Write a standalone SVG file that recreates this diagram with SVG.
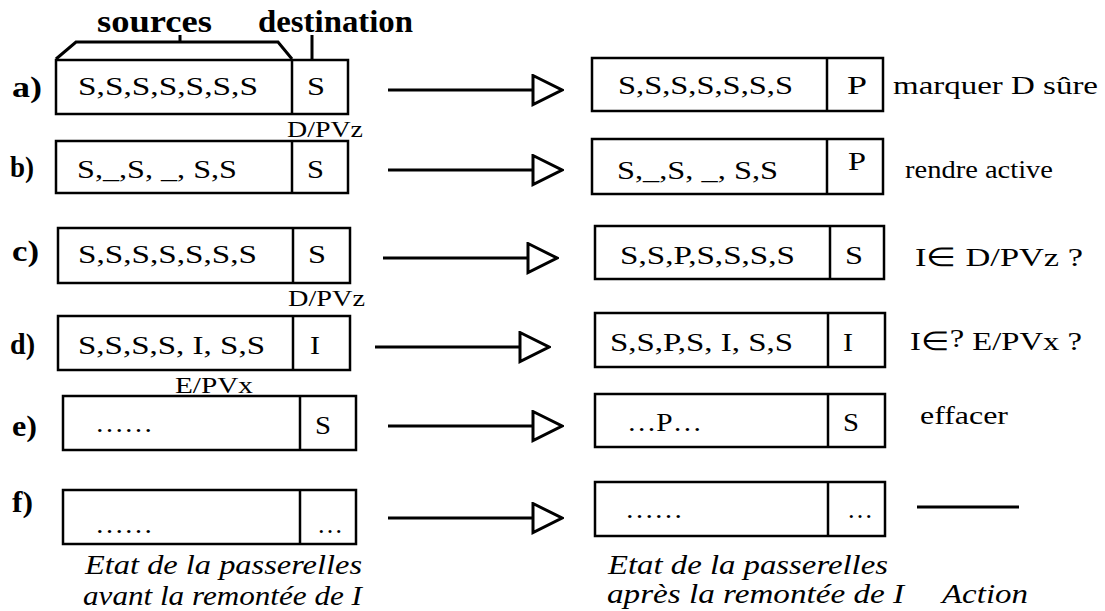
<svg xmlns="http://www.w3.org/2000/svg" width="1105" height="611" viewBox="0 0 1105 611">
<style>
text{font-family:"Liberation Serif","Times New Roman",serif;fill:#000}
.t{font-size:26px}
.s{font-size:23px}
.b{font-size:29px;font-weight:bold}
.h{font-size:32px;font-weight:bold}
.i{font-size:28px;font-style:italic}
.box{fill:#fff;stroke:#000;stroke-width:2.5}
.div{stroke:#000;stroke-width:2.5}
.ln{stroke:#000;stroke-width:3;fill:none}
</style>
<defs>
<marker id="tri" viewBox="-2 -2 33 33" markerWidth="33" markerHeight="33" markerUnits="userSpaceOnUse" refX="0" refY="14.5" orient="auto">
<path d="M0,0 L29,14.5 L0,29 Z" fill="#fff" stroke="#000" stroke-width="3"/>
</marker>
</defs>
<rect width="1105" height="611" fill="#fff"/>

<g id="header">
<text class="h" x="97" y="32" textLength="115" lengthAdjust="spacingAndGlyphs">sources</text>
<text class="h" x="258" y="32" textLength="155" lengthAdjust="spacingAndGlyphs">destination</text>
<path class="ln" d="M56,59 L76,42 L278,42 L292,59 M180,42 V35 M312,35 V64"/>
</g>

<g id="labels">
<text class="b" x="12" y="97" textLength="30" lengthAdjust="spacingAndGlyphs">a)</text>
<text class="b" x="10" y="177" textLength="24" lengthAdjust="spacingAndGlyphs">b)</text>
<text class="b" x="12" y="261" textLength="27" lengthAdjust="spacingAndGlyphs">c)</text>
<text class="b" x="10" y="354" textLength="25" lengthAdjust="spacingAndGlyphs">d)</text>
<text class="b" x="12" y="436" textLength="25" lengthAdjust="spacingAndGlyphs">e)</text>
<text class="b" x="12" y="512" textLength="21" lengthAdjust="spacingAndGlyphs">f)</text>
</g>

<g id="before-a">
<rect class="box" x="56" y="60" width="292" height="54"/><line class="div" x1="292" y1="60" x2="292" y2="114"/>
<text class="t" x="78" y="95" textLength="180" lengthAdjust="spacingAndGlyphs">S,S,S,S,S,S,S</text>
<text class="t" x="307" y="95" textLength="18" lengthAdjust="spacingAndGlyphs">S</text>
<text class="s" x="287" y="137" textLength="76" lengthAdjust="spacingAndGlyphs">D/PVz</text>
</g>
<g id="before-b">
<rect class="box" x="56" y="141" width="292" height="52"/><line class="div" x1="292" y1="141" x2="292" y2="193"/>
<text class="t" x="77" y="178" textLength="160" lengthAdjust="spacingAndGlyphs">S,_,S, _, S,S</text>
<text class="t" x="307" y="178" textLength="17" lengthAdjust="spacingAndGlyphs">S</text>
</g>
<g id="before-c">
<rect class="box" x="58" y="228" width="292" height="55"/><line class="div" x1="293" y1="228" x2="293" y2="283"/>
<text class="t" x="78" y="263" textLength="179" lengthAdjust="spacingAndGlyphs">S,S,S,S,S,S,S</text>
<text class="t" x="308" y="263" textLength="18" lengthAdjust="spacingAndGlyphs">S</text>
<text class="s" x="288" y="306" textLength="77" lengthAdjust="spacingAndGlyphs">D/PVz</text>
</g>
<g id="before-d">
<rect class="box" x="58" y="316" width="292" height="54"/><line class="div" x1="293" y1="316" x2="293" y2="370"/>
<text class="t" x="78" y="354" textLength="187" lengthAdjust="spacingAndGlyphs">S,S,S,S, I, S,S</text>
<text class="t" x="310" y="354" textLength="10" lengthAdjust="spacingAndGlyphs">I</text>
<text class="s" x="175" y="393" textLength="78" lengthAdjust="spacingAndGlyphs">E/PVx</text>
</g>
<g id="before-e">
<rect class="box" x="63" y="396" width="293" height="54"/><line class="div" x1="300" y1="396" x2="300" y2="450"/>
<text class="t" x="95" y="432" textLength="58" lengthAdjust="spacingAndGlyphs">……</text>
<text class="t" x="315" y="434" textLength="16" lengthAdjust="spacingAndGlyphs">S</text>
</g>
<g id="before-f">
<rect class="box" x="63" y="490" width="293" height="54"/><line class="div" x1="300" y1="490" x2="300" y2="544"/>
<text class="t" x="95" y="533" textLength="58" lengthAdjust="spacingAndGlyphs">……</text>
<text class="t" x="317" y="533" textLength="26" lengthAdjust="spacingAndGlyphs">…</text>
</g>

<g id="connectors">
<line class="ln" x1="388" y1="90" x2="533" y2="90" marker-end="url(#tri)"/>
<line class="ln" x1="388" y1="170" x2="533" y2="170" marker-end="url(#tri)"/>
<line class="ln" x1="383" y1="258" x2="528" y2="258" marker-end="url(#tri)"/>
<line class="ln" x1="375" y1="347" x2="520" y2="347" marker-end="url(#tri)"/>
<line class="ln" x1="388" y1="426" x2="533" y2="426" marker-end="url(#tri)"/>
<line class="ln" x1="388" y1="518" x2="533" y2="518" marker-end="url(#tri)"/>
</g>

<g id="after-a">
<rect class="box" x="592" y="58" width="291" height="53"/><line class="div" x1="827" y1="58" x2="827" y2="111"/>
<text class="t" x="618" y="94" textLength="175" lengthAdjust="spacingAndGlyphs">S,S,S,S,S,S,S</text>
<text class="t" x="847" y="94" textLength="20" lengthAdjust="spacingAndGlyphs">P</text>
</g>
<g id="after-b">
<rect class="box" x="592" y="139" width="291" height="55"/><line class="div" x1="827" y1="139" x2="827" y2="194"/>
<text class="t" x="617" y="179" textLength="161" lengthAdjust="spacingAndGlyphs">S,_,S, _, S,S</text>
<text class="t" x="848" y="170" textLength="18" lengthAdjust="spacingAndGlyphs">P</text>
</g>
<g id="after-c">
<rect class="box" x="595" y="226" width="289" height="53"/><line class="div" x1="830" y1="226" x2="830" y2="279"/>
<text class="t" x="620" y="264" textLength="175" lengthAdjust="spacingAndGlyphs">S,S,P,S,S,S,S</text>
<text class="t" x="845" y="264" textLength="18" lengthAdjust="spacingAndGlyphs">S</text>
</g>
<g id="after-d">
<rect class="box" x="595" y="313" width="290" height="54"/><line class="div" x1="828" y1="313" x2="828" y2="367"/>
<text class="t" x="610" y="351" textLength="183" lengthAdjust="spacingAndGlyphs">S,S,P,S, I, S,S</text>
<text class="t" x="843" y="351" textLength="10" lengthAdjust="spacingAndGlyphs">I</text>
</g>
<g id="after-e">
<rect class="box" x="595" y="394" width="290" height="53"/><line class="div" x1="828" y1="394" x2="828" y2="447"/>
<text class="t" x="627" y="431" textLength="75" lengthAdjust="spacingAndGlyphs">…P…</text>
<text class="t" x="843" y="431" textLength="16" lengthAdjust="spacingAndGlyphs">S</text>
</g>
<g id="after-f">
<rect class="box" x="595" y="482" width="290" height="54"/><line class="div" x1="828" y1="482" x2="828" y2="536"/>
<text class="t" x="625" y="518" textLength="58" lengthAdjust="spacingAndGlyphs">……</text>
<text class="t" x="847" y="518" textLength="26" lengthAdjust="spacingAndGlyphs">…</text>
</g>

<g id="actions">
<text class="t" x="893" y="94" textLength="205" lengthAdjust="spacingAndGlyphs">marquer D sûre</text>
<text class="t" x="905" y="178" textLength="148" lengthAdjust="spacingAndGlyphs">rendre active</text>
<text class="t" x="915" y="266" textLength="168" lengthAdjust="spacingAndGlyphs">I∈ D/PVz ?</text>
<text class="t" x="910" y="350" textLength="172" lengthAdjust="spacingAndGlyphs">I∈<tspan dy="-3">?</tspan><tspan dy="3"> E/PVx ?</tspan></text>
<text class="t" x="920" y="424" textLength="88" lengthAdjust="spacingAndGlyphs">effacer</text>
<line class="ln" x1="917" y1="507" x2="1019" y2="507"/>
</g>

<g id="captions">
<text class="i" x="85" y="574" textLength="277" lengthAdjust="spacingAndGlyphs">Etat de la passerelles</text>
<text class="i" x="83" y="605" textLength="279" lengthAdjust="spacingAndGlyphs">avant la remontée de I</text>
<text class="i" x="608" y="574" textLength="280" lengthAdjust="spacingAndGlyphs">Etat de la passerelles</text>
<text class="i" x="607" y="603" textLength="297" lengthAdjust="spacingAndGlyphs">après la remontée de I</text>
<text class="i" x="942" y="603" textLength="86" lengthAdjust="spacingAndGlyphs">Action</text>
</g>
</svg>
